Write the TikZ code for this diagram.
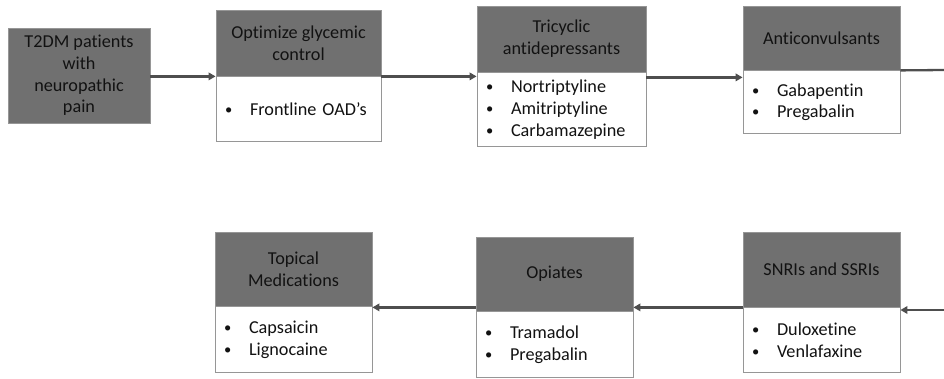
\documentclass[tikz,border=0pt]{standalone}
\usepackage{fontspec}
\setmainfont{Carlito}[Ligatures={NoCommon}]
\usetikzlibrary{arrows.meta,calc}
\definecolor{hdr}{RGB}{112,112,112}
\definecolor{edgec}{RGB}{150,150,150}
\definecolor{txt}{RGB}{18,18,18}
\definecolor{arrc}{RGB}{78,78,78}
\newcommand\bitem[1]{\makebox[25pt][l]{\raisebox{1pt}{\scalebox{0.8}{\textbullet}}}#1}
\begin{document}
\begin{tikzpicture}[x=1pt,y=-1pt,
  hbox/.style={draw=edgec, line width=0.8pt, fill=hdr, text=txt, align=center, inner sep=0pt, font=\fontsize{18.2}{21.7}\selectfont},
  bbox/.style={draw=edgec, line width=0.8pt, fill=white, text=txt, align=left, inner xsep=9pt, inner ysep=0pt, anchor=north, font=\fontsize{18.2}{21.7}\selectfont},
  conn/.style={draw=arrc, line width=2.3pt, -{Triangle[length=7pt,width=7.5pt]}},
  plainline/.style={draw=arrc, line width=2.3pt}
]
\useasboundingbox (0,0) rectangle (944,379);

% top row
\node[hbox, minimum width=142pt, minimum height=95pt] (t2dm) at (79,75.5) {T2DM patients\\with\\neuropathic\\pain};

\node[hbox, minimum width=165pt, minimum height=66pt] (h2) at (298.5,43) {Optimize glycemic\\control};
\node[bbox, text width=147pt, minimum height=65pt] (b2) at (h2.south) {\bitem{Frontline OAD’s}};

\node[hbox, minimum width=169pt, minimum height=66pt] (h3) at (561.5,39) {Tricyclic\\antidepressants};
\node[bbox, text width=151pt, minimum height=74pt] (b3) at (h3.south) {\bitem{Nortriptyline}\\\bitem{Amitriptyline}\\\bitem{Carbamazepine}};

\node[hbox, minimum width=157pt, minimum height=64pt] (h4) at (821.5,38) {Anticonvulsants};
\node[bbox, text width=139pt, minimum height=63pt] (b4) at (h4.south) {\bitem{Gabapentin}\\\bitem{Pregabalin}};

% bottom row
\node[hbox, minimum width=157pt, minimum height=74pt] (h5) at (293.5,269) {Topical\\Medications};
\node[bbox, text width=139pt, minimum height=66pt] (b5) at (h5.south) {\bitem{Capsaicin}\\\bitem{Lignocaine}};

\node[hbox, minimum width=157pt, minimum height=74pt] (h6) at (554.5,274) {Opiates};
\node[bbox, text width=139pt, minimum height=66pt] (b6) at (h6.south) {\bitem{Tramadol}\\\bitem{Pregabalin}};

\node[hbox, minimum width=157pt, minimum height=75pt] (h7) at (821.5,269.5) {SNRIs and SSRIs};
\node[bbox, text width=139pt, minimum height=65pt] (b7) at (h7.south) {\bitem{Duloxetine}\\\bitem{Venlafaxine}};

% connectors
\draw[conn] (t2dm.east |- h2.south) -- (h2.south west);
\draw[conn] (h2.south east) -- (h2.south east -| h3.west);
\coordinate (a3) at ($(h3.south east)+(0,5)$);
\draw[conn] (a3) -- (a3 -| h4.west);
\coordinate (r1) at (944,70);
\draw[plainline] (h4.south east) -- (r1);
\coordinate (r2) at (944,310);
\draw[conn] (r2) -- (r2 -| b7.east);
\coordinate (a6) at (h7.south west);
\draw[conn] (a6) -- (a6 -| h6.east);
\draw[conn] (a6 -| h6.west) -- (a6 -| h5.east);
\end{tikzpicture}
\end{document}
